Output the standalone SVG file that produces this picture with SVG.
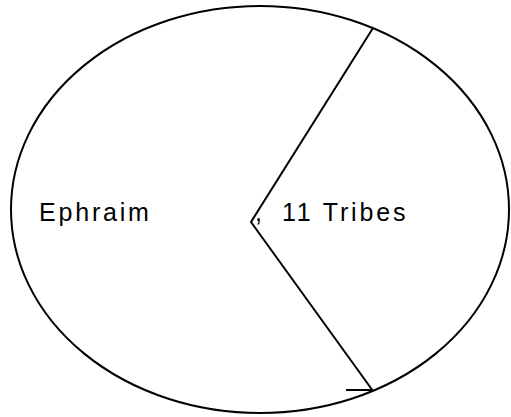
<svg xmlns="http://www.w3.org/2000/svg" width="511" height="417" viewBox="0 0 511 417">
<style>
.ln{fill:none;stroke:#000;stroke-width:2;stroke-linecap:butt}
.tx{font-family:"Liberation Sans",Arial,sans-serif;font-size:25px;fill:#000;letter-spacing:2.8px}
</style>
<rect width="511" height="417" fill="#fff"/>
<g id="circle">
<ellipse class="ln" cx="260" cy="209.5" rx="249" ry="203.5"/>
</g>
<g id="connectors">
<polyline class="ln" points="373,28 251,222 373,391"/>
<line class="ln" x1="346" y1="390" x2="373" y2="390"/>
</g>
<g id="ephraim">
<text class="tx" x="39" y="221">Ephraim</text>
</g>
<g id="tribes">
<text class="tx" x="255" y="221">,</text>
<text class="tx" x="282" y="221">11 Tribes</text>
</g>
</svg>
